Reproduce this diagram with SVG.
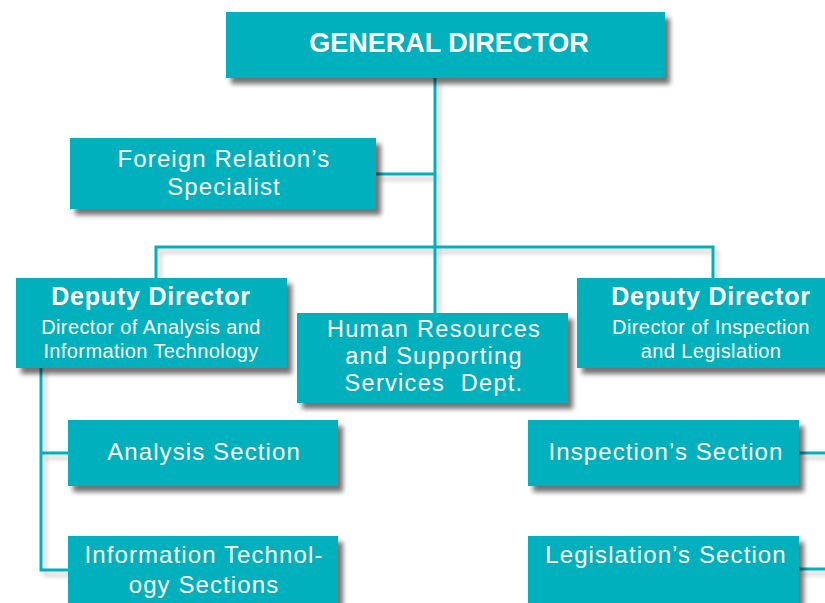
<svg xmlns="http://www.w3.org/2000/svg" width="825" height="603" viewBox="0 0 825 603">
<defs>
<filter id="sh" x="-10%" y="-10%" width="130%" height="140%">
<feGaussianBlur in="SourceAlpha" stdDeviation="2.5"/>
<feOffset dx="5" dy="6" result="b"/>
<feComponentTransfer><feFuncA type="linear" slope="0.55"/></feComponentTransfer>
<feMerge><feMergeNode/><feMergeNode in="SourceGraphic"/></feMerge>
</filter>
<filter id="lsh" x="-10%" y="-10%" width="130%" height="140%">
<feGaussianBlur in="SourceAlpha" stdDeviation="2"/>
<feOffset dx="4" dy="5" result="b"/>
<feComponentTransfer><feFuncA type="linear" slope="0.2"/></feComponentTransfer>
<feMerge><feMergeNode/><feMergeNode in="SourceGraphic"/></feMerge>
</filter>
</defs>
<style>
.box{fill:#00B0BD;filter:url(#sh)}
.t{fill:#fff;font-family:"Liberation Sans",Arial,sans-serif;text-anchor:middle}
.m{font-size:24px;letter-spacing:1.1px}
.h{font-size:23.5px;letter-spacing:1.3px}
.s{font-size:20px;letter-spacing:0.4px}
.d{font-size:25px;font-weight:bold;letter-spacing:0.8px}
.g{font-size:27px;font-weight:bold}
.l{stroke:#00B0BD;stroke-width:3;fill:none}
</style>
<rect width="825" height="603" fill="#fff"/>
<g id="connectors" filter="url(#lsh)">
<path class="l" d="M435 78V313"/>
<path class="l" d="M376 174H435"/>
<path class="l" d="M156 278V247H713V278"/>
<path class="l" d="M41 368V570H68M41 453H68"/>
<path class="l" d="M799 453H825M799 569H825"/>
</g>
<g id="general-director">
<rect class="box" x="226" y="12" width="439" height="66"/>
<text class="t g" x="449" y="52">GENERAL DIRECTOR</text>
</g>
<g id="foreign-relations">
<rect class="box" x="70" y="138" width="306" height="71"/>
<text class="t m" x="224" y="167">Foreign Relation’s</text>
<text class="t m" x="224" y="195">Specialist</text>
</g>
<g id="deputy-left">
<rect class="box" x="16" y="278" width="271" height="90"/>
<text class="t d" x="151" y="305">Deputy Director</text>
<text class="t s" x="151" y="334">Director of Analysis and</text>
<text class="t s" x="151" y="358">Information Technology</text>
</g>
<g id="hr">
<rect class="box" x="297" y="313" width="271" height="90"/>
<text class="t h" x="434" y="337">Human Resources</text>
<text class="t h" x="434" y="364">and Supporting</text>
<text class="t h" x="434" y="391" xml:space="preserve">Services  Dept.</text>
</g>
<g id="deputy-right">
<rect class="box" x="577" y="278" width="260" height="90"/>
<text class="t d" x="711" y="305">Deputy Director</text>
<text class="t s" x="711" y="334">Director of Inspection</text>
<text class="t s" x="711" y="358">and Legislation</text>
</g>
<g id="analysis-section">
<rect class="box" x="68" y="420" width="270" height="66"/>
<text class="t m" x="204" y="460">Analysis Section</text>
</g>
<g id="it-sections">
<rect class="box" x="68" y="536" width="270" height="72"/>
<text class="t m" x="204" y="563">Information Technol-</text>
<text class="t m" x="204" y="593">ogy Sections</text>
</g>
<g id="inspection-section">
<rect class="box" x="528" y="420" width="271" height="66"/>
<text class="t m" x="666" y="460">Inspection’s Section</text>
</g>
<g id="legislation-section">
<rect class="box" x="528" y="536" width="271" height="72"/>
<text class="t m" x="666" y="563">Legislation’s Section</text>
</g>
</svg>
